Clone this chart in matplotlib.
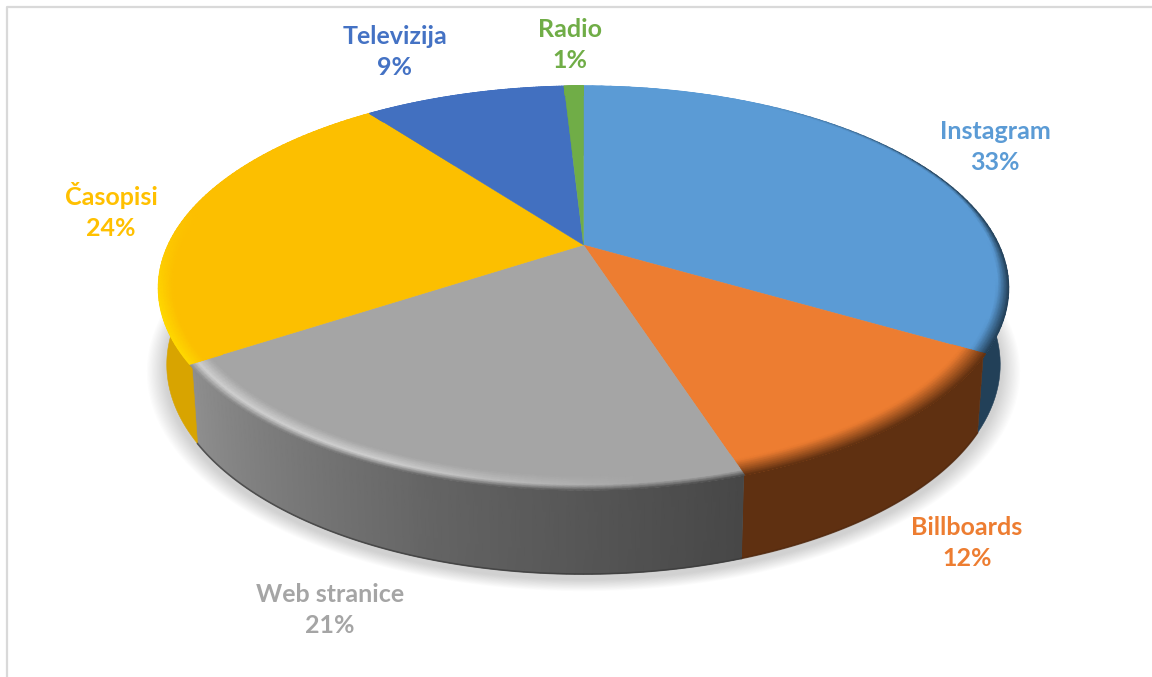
import numpy as np
import matplotlib
matplotlib.use('Agg')
import matplotlib.pyplot as plt
from matplotlib.colors import to_rgb

categories = ['Instagram', 'Billboards', 'Web stranice', 'Časopisi', 'Televizija', 'Radio']
# unrounded shares, labels show them rounded
values = [33.4, 11.6, 20.8, 23.9, 9.4, 0.9]
top_colors = ['#5b9bd5', '#ed7d31', '#a5a5a5', '#fcbf00', '#4270c0', '#70ad47']
label_colors = ['#5b9bd5', '#ed7d31', '#a5a5a5', '#ffc000', '#4472c4', '#70ad47']
wall_colors = ['#224058', '#5f3011', '#636363', '#d8a400', '#4270c0', '#70ad47']

# pie geometry in pixels: apex, perspective, wall bottom
CX, CY = 583.5, 245
K = 0.213
A = 415.5
B = 193.0
WALL_CY = 320
WALL_SX = 0.98
WALL_SY = 1.036
BEVEL = 0.075

label_pos = [(995, 147), (967, 543), (330, 610), (111, 211), (395, 52), (570, 45)]

total = sum(values)
edges = np.cumsum([0] + values) / total


def top_xy(f, r=1.0):
    th = 2 * np.pi * f
    X, Y = r * np.sin(th), r * np.cos(th)
    w = 1 + K * Y
    return CX + A * X / w, CY - B * Y / w


def wall_xy(f):
    th = 2 * np.pi * f
    X, Y = np.sin(th), np.cos(th)
    w = 1 + K * Y
    return CX + WALL_SX * A * X / w, WALL_CY - WALL_SY * B * Y / w


def mix(c1, c2, t):
    c1, c2 = np.array(to_rgb(c1)), np.array(to_rgb(c2))
    return tuple(c1 + (c2 - c1) * np.clip(t, 0, 1))


def web_wall(f):
    u = (edges[3] - f) / (edges[3] - edges[2])
    if u < 0.55:
        return mix('#8f8f8f', '#636363', u / 0.55)
    return mix('#636363', '#474747', (u - 0.55) / 0.45)


def bevel_color(i, f, t):
    # t = 0 at the outer rim, 1 where the flat top starts
    base = top_colors[i]
    if i == 0:
        edge = mix(base, '#223e55', (f - 0.08) / 0.1)
        u = np.clip((f - 0.2) / 0.12, 0, 1)
        return mix(edge, base, t / (0.12 + 0.33 * u))
    if i == 1:
        return mix('#5f3011', base, t / 0.7)
    if i == 2:
        u = (edges[3] - f) / (edges[3] - edges[2])
        glow = 1 - np.clip((u - 0.45) / 0.4, 0, 1)
        peak = mix(base, '#cfcfcf', glow)
        if t < 0.25:
            return mix(web_wall(f), peak, t / 0.25)
        return mix(peak, base, (t - 0.25) / 0.4)
    if i == 3:
        u = np.clip((0.78 - f) / 0.08, 0, 1)
        return mix(mix(base, '#ffd900', u), base, t * 2.2)
    return to_rgb(base)


fig = plt.figure(figsize=(11.52, 6.77), dpi=100)
ax = fig.add_axes([0, 0, 1, 1])
ax.set_xlim(0, 1152)
ax.set_ylim(677, 0)
ax.axis('off')

# chart frame, only top and left show in the crop
ax.plot([6.5, 6.5, 1152], [677, 7, 7], color='#d9d9d9', lw=1.6, zorder=1)

# soft shadow under the pie
ff = np.linspace(0, 1, 361)
wx, wy = wall_xy(ff)
for pad in np.linspace(20, 1, 16):
    s = 1 + pad / 420
    ax.fill(CX + (wx - CX) * s, WALL_CY + 5 + (wy - WALL_CY) * s, color='#808080', alpha=0.022, lw=0, zorder=2)

# walls, back slices first
for i in [4, 5, 3, 0, 1, 2]:
    fs = np.linspace(edges[i], edges[i + 1], 80)
    tx, ty = top_xy(fs, 0.995)
    bx, by = wall_xy(fs)
    z = 3 + i * 0.01
    ax.fill(np.r_[tx, bx[::-1]], np.r_[ty, by[::-1]], color=wall_colors[i], lw=0.4, zorder=z)
    if i == 2:
        c = np.array([[web_wall(f) for f in fs]] * 2)
        ax.pcolormesh(np.array([tx, bx]), np.array([ty, by]), c, shading='gouraud', zorder=z + 0.001)
    if i in (1, 2):
        ax.plot(bx, by, color='#3a3a3a' if i == 2 else '#4d260d', lw=1.2, alpha=0.7, zorder=3.2)

# top faces with a bevelled rim
rs = np.linspace(1, 1 - BEVEL, 13)
for i in range(len(values)):
    fs = np.linspace(edges[i], edges[i + 1], 80)
    rx, ry = top_xy(fs, 1.0)
    ax.fill(np.r_[CX, rx], np.r_[CY, ry], color=top_colors[i], lw=0.3, zorder=4)
    mx = np.array([top_xy(fs, r)[0] for r in rs])
    my = np.array([top_xy(fs, r)[1] for r in rs])
    c = np.array([[bevel_color(i, f, n / (len(rs) - 1)) for f in fs] for n in range(len(rs))])
    ax.pcolormesh(mx, my, c, shading='gouraud', zorder=4.1)

for name, val, pos, col in zip(categories, values, label_pos, label_colors):
    ax.text(pos[0], pos[1], f'{name}\n{max(round(val), 1)}%', color=col, ha='center', va='center',
            family='Lato', weight='bold', fontsize=18, linespacing=1.42, zorder=5)

plt.savefig('out.png', dpi=100)
